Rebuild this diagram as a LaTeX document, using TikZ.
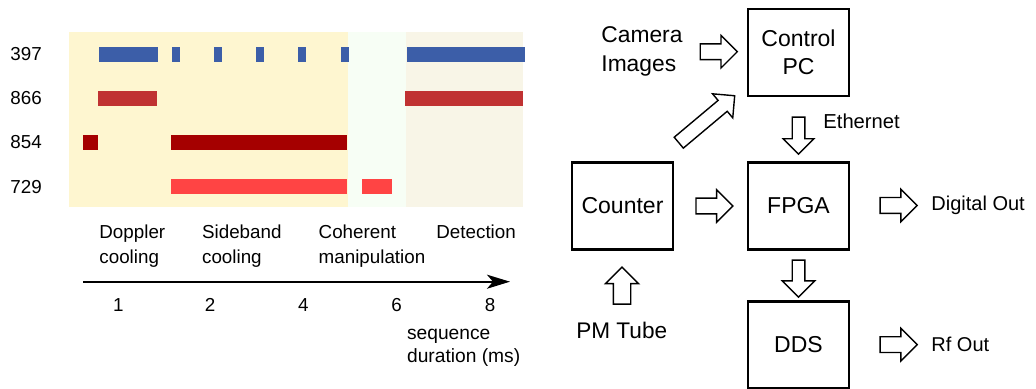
\documentclass[tikz,border=0pt]{standalone}
\usepackage{fontspec}
\setmainfont{Liberation Sans}
\usetikzlibrary{shapes.arrows,arrows.meta,calc}

\definecolor{phaseA}{RGB}{254,246,208}
\definecolor{phaseB}{RGB}{247,254,245}
\definecolor{phaseC}{RGB}{248,245,231}
\definecolor{laserblue}{RGB}{60,94,168}
\definecolor{laserred}{RGB}{192,50,50}
\definecolor{laserdark}{RGB}{165,0,0}
\definecolor{laserlight}{RGB}{255,68,68}

\tikzset{
    block/.style={draw, line width=1.3pt, minimum width=50.5pt, minimum height=43.5pt,
        align=center, font=\fontsize{11.5}{14}\selectfont},
    blockarrow/.style={single arrow, draw, line width=0.7pt, minimum height=18.5pt,
        inner xsep=0pt, inner ysep=3.6pt, single arrow head extend=4.2pt,
        single arrow tip angle=90},
    lbl/.style={inner sep=0pt, align=left, font=\fontsize{9.4}{12.3}\selectfont}
}

\begin{document}
\begin{tikzpicture}[x=0.5pt,y=-0.5pt]

            \useasboundingbox (0,0) rectangle (1036,389);

            % phases
            \fill[phaseA] (69,32) rectangle (348,207.5);
            \fill[phaseB] (348,32) rectangle (406,207.5);
            \fill[phaseC] (406,32) rectangle (522.5,207.5);

            % 397
            \fill[laserblue] (99,46.7) rectangle (157.7,62);
            \fill[laserblue] (172,46.7) rectangle (180,62);
            \fill[laserblue] (214,46.7) rectangle (222,62);
            \fill[laserblue] (256,46.7) rectangle (264,62);
            \fill[laserblue] (298,46.7) rectangle (306,62);
            \fill[laserblue] (341,46.7) rectangle (349,62);
            \fill[laserblue] (407,46.7) rectangle (524.5,62);

            % 866
            \fill[laserred] (98,91) rectangle (157,105.7);
            \fill[laserred] (405,91) rectangle (522.5,105.7);

            % 854
            \fill[laserdark] (82.7,134.7) rectangle (98,150);
            \fill[laserdark] (171,134.7) rectangle (347,150);

            % 729
            \fill[laserlight] (171,179) rectangle (347,193.7);
            \fill[laserlight] (362,179) rectangle (392,193.7);

            \node[lbl, anchor=west] (w397) at (10,54.3) {397};
            \node[lbl, anchor=west] (w866) at (10,98.3) {866};
            \node[lbl, anchor=west] (w854) at (10,142.5) {854};
            \node[lbl, anchor=west] (w729) at (10,187) {729};

            \node[lbl, anchor=north west] (doppler) at (99,224.5) {Doppler\\cooling};
            \node[lbl, anchor=north west] (sideband) at (201.7,224.5) {Sideband\\cooling};
            \node[lbl, anchor=north west] (coherent) at (318.3,224.5) {Coherent\\manipulation};
            \node[lbl, anchor=north west] (detection) at (436,224.5) {Detection};

            \draw[line width=1pt, -{Stealth[length=11.5pt, width=7pt, inset=3pt]}] (83.3,281.7) -- (510,281.7);

            \node[lbl, anchor=base] (t1) at (118.3,311.7) {1};
            \node[lbl, anchor=base] (t2) at (210,311.7) {2};
            \node[lbl, anchor=base] (t4) at (303.3,311.7) {4};
            \node[lbl, anchor=base] (t6) at (396.7,311.7) {6};
            \node[lbl, anchor=base] (t8) at (490,311.7) {8};

            \node[lbl, anchor=north west, font=\fontsize{9.6}{11.2}\selectfont] (seqdur) at (406.7,329) {sequence\\duration (ms)};

            % hardware
            \node[block] (pc) at (798.5,52.5) {Control\\PC};
            \node[block] (counter) at (622.5,206) {Counter};
            \node[block] (fpga) at (798.5,206) {FPGA};
            \node[block] (dds) at (798.5,345) {DDS};

            \node[inner sep=0pt, anchor=west, align=left, font=\fontsize{11.4}{14.5}\selectfont] (camera) at (601,51) {Camera\\Images};
            \node[inner sep=0pt, anchor=west, font=\fontsize{10.1}{12}\selectfont] (ethernet) at (823,121.7) {Ethernet};
            \node[inner sep=0pt, anchor=west, font=\fontsize{10}{12}\selectfont] (digout) at (931,205) {Digital Out};
            \node[inner sep=0pt, anchor=west, font=\fontsize{10}{12}\selectfont] (rfout) at (931,344.3) {Rf Out};
            \node[inner sep=0pt, font=\fontsize{11.3}{13}\selectfont] (pmt) at (621.7,330.7) {PM Tube};

            \node[blockarrow] (a1) at ($(camera.east)!0.5!(pc.west)$) {};
            \node[blockarrow, rotate=40, minimum height=36.5pt, inner ysep=3.2pt, single arrow head extend=4.3pt] (a2) at (704,121.5) {};
            \node[blockarrow, rotate=-90, inner ysep=2.8pt, single arrow head extend=4.5pt] (a3) at ($(pc.south)!0.55!(fpga.north)$) {};
            \node[blockarrow] (a4) at ($(counter.east)!0.5!(fpga.west)$) {};
            \node[blockarrow] (a5) at ($(fpga.east)!0.55!(digout.west)$) {};
            \node[blockarrow, rotate=-90, inner ysep=2.8pt, single arrow head extend=5pt] (a6) at ($(fpga.south)!0.5!(dds.north)$) {};
            \node[blockarrow] (a7) at ($(dds.east)!0.55!(rfout.west)$) {};
            \node[blockarrow, rotate=90, inner ysep=4pt, single arrow head extend=3.9pt] (a8) at ($(pmt.north)!0.45!(counter.south)$) {};

        \end{tikzpicture}
\end{document}
